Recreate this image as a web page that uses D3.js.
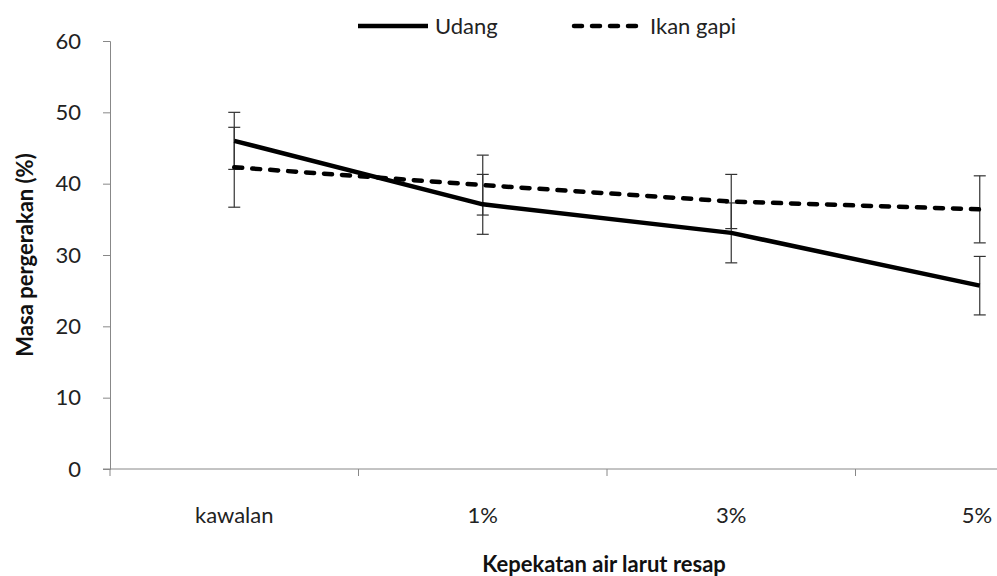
<!DOCTYPE html>
<html>
<head>
<meta charset="utf-8">
<script src="https://cdn.jsdelivr.net/npm/d3@7"></script>
<style>
    body { margin: 0; background: #fff; }
    svg { display: block; font-family: Lato, "Open Sans", sans-serif; }
    .err { stroke: #333; stroke-width: 1.2; fill: none; }
    .series { fill: none; stroke: #000; stroke-width: 4.5; stroke-linejoin: round; }
</style>
</head>
<body>
<div id="chart"></div>
<script>
const categories = ['kawalan', '1%', '3%', '5%'];
const udang = [46.0, 37.1, 33.1, 25.7];
const udangErr = [4.0, 4.2, 4.2, 4.1];
const ikanGapi = [42.3, 39.8, 37.5, 36.4];
const ikanGapiErr = [5.6, 4.2, 3.8, 4.7];
const yTicks = [0, 10, 20, 30, 40, 50, 60];

const [svgW, svgH] = [997, 576];
const PLOT = {left: 110, right: 1104, top: 41, bottom: 469};
const CAP = 6;

const svg = d3.select('#chart').append('svg').attr('width', svgW).attr('height', svgH);

const x = d3.scaleBand().domain(categories).range([PLOT.left, PLOT.right]);
const y = d3.scaleLinear().domain([0, 60]).range([PLOT.bottom, PLOT.top]);
const cx = function (c) { return x(c) + x.bandwidth() / 2; };

// y axis
const yAxis = svg.append('g').attr('transform', 'translate(' + PLOT.left + ',0)')
    .call(d3.axisLeft(y).tickValues(yTicks).tickSize(7).tickPadding(22));
yAxis.select('.domain').attr('stroke', '#888');
yAxis.selectAll('.tick line').attr('stroke', '#888');
yAxis.selectAll('.tick text').attr('font-size', 22).attr('fill', '#222')
    .attr('font-family', 'Lato, sans-serif');

// x axis: line, boundary ticks, centred labels
const xg = svg.append('g');
xg.append('line').attr('x1', PLOT.left - 7).attr('x2', svgW).attr('y1', PLOT.bottom).attr('y2', PLOT.bottom)
    .attr('stroke', '#888');
xg.selectAll('line.tk').data(categories).enter().append('line').attr('class', 'tk')
    .attr('x1', function (d) { return x(d); }).attr('x2', function (d) { return x(d); })
    .attr('y1', PLOT.bottom).attr('y2', PLOT.bottom + 7).attr('stroke', '#888');
xg.selectAll('text').data(categories).enter().append('text')
    .attr('x', function (d, i) { return i === categories.length - 1 ? Math.min(cx(d), svgW - 20) : cx(d); })
    .attr('y', 523).attr('text-anchor', 'middle').attr('font-size', 22).attr('fill', '#222')
    .text(function (d) { return d; });

// axis titles
svg.append('text').attr('x', (PLOT.left + PLOT.right) / 2 - 3).attr('y', 572).attr('text-anchor', 'middle')
    .attr('font-size', 22).attr('font-weight', 'bold').attr('fill', '#111').text('Kepekatan air larut resap');
svg.append('text').attr('transform', 'translate(33,' + (PLOT.top + PLOT.bottom) / 2 + ') rotate(-90)')
    .attr('text-anchor', 'middle').attr('font-size', 22).attr('font-weight', 'bold').attr('fill', '#111')
    .text('Masa pergerakan (%)');

// error bars
function renderErrors(values, errs) {
    const g = svg.append('g');
    categories.forEach(function (c, i) {
        const px = cx(c);
        const lo = y(values[i] - errs[i]);
        const hi = y(values[i] + errs[i]);
        g.append('line').attr('class', 'err').attr('x1', px).attr('x2', px).attr('y1', lo).attr('y2', hi);
        g.append('line').attr('class', 'err').attr('x1', px - CAP).attr('x2', px + CAP).attr('y1', lo).attr('y2', lo);
        g.append('line').attr('class', 'err').attr('x1', px - CAP).attr('x2', px + CAP).attr('y1', hi).attr('y2', hi);
    });
}
renderErrors(udang, udangErr);
renderErrors(ikanGapi, ikanGapiErr);

// lines
const line = d3.line().x(function (d, i) { return cx(categories[i]); }).y(function (d) { return y(d); });
svg.append('path').attr('class', 'series').attr('d', line(udang));
svg.append('path').attr('class', 'series').attr('d', line(ikanGapi))
    .attr('stroke-dasharray', '8,10').attr('stroke-linecap', 'round');

// legend
const legend = [
    {name: 'Udang', x1: 358, x2: 428, dash: null},
    {name: 'Ikan gapi', x1: 574, x2: 643, dash: '8,10'}
];
legend.forEach(function (d) {
    const l = svg.append('line').attr('x1', d.x1).attr('x2', d.x2).attr('y1', 26).attr('y2', 26)
        .attr('stroke', '#000').attr('stroke-width', 4.5);
    if (d.dash) {
        l.attr('stroke-dasharray', d.dash).attr('stroke-linecap', 'round');
    }
    svg.append('text').attr('x', d.x2 + 7).attr('y', 34).attr('font-size', 22).attr('fill', '#222').text(d.name);
});
</script>
</body>
</html>
